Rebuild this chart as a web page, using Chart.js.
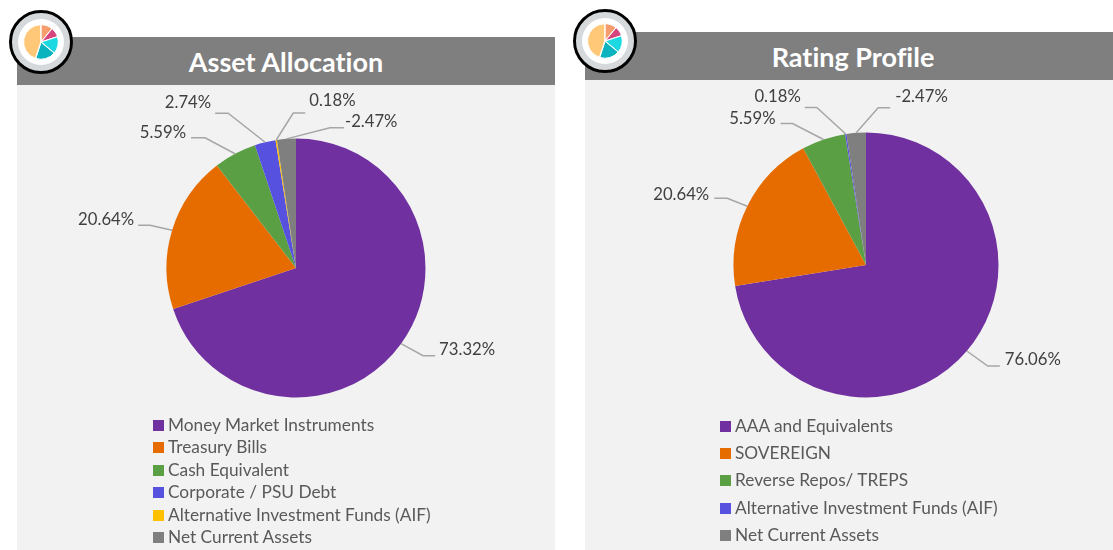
<!DOCTYPE html>
<html>
<head>
<meta charset="utf-8">
<script src="https://cdn.jsdelivr.net/npm/chart.js@4"></script>
<style>
  html, body { margin: 0; background: #fff; overflow: hidden; }
  body { position: relative; width: 1113px; height: 550px; font-family: Lato, sans-serif; font-variant-ligatures: none; }
  .panel { position: absolute; background: #f2f2f2; }
  .band { position: absolute; left: 0; top: 0; width: 100%; height: 48px; background: #7f7f7f; color: #fff;
          font-weight: bold; font-size: 27px; line-height: 50px; text-align: center; }
  .panel canvas { position: absolute; left: 0; top: 0; }
  .legend { position: absolute; font-size: 17.3px; color: #595959; white-space: nowrap; }
  .legend div { position: absolute; left: 0; white-space: nowrap; line-height: 20px; }
  .legend i { position: absolute; left: 0; top: 5px; width: 11px; height: 11px; }
  .legend span { position: absolute; left: 15px; top: 0; }
  .badge { position: absolute; width: 58px; height: 58px; border: 3px solid #000; border-radius: 50%;
           background: #fff; box-shadow: inset 0 0 0 6px #d5d9dc; }
  .badge canvas { position: absolute; left: 9px; top: 9px; }
</style>
</head>
<body>
<script>
'use strict';

// left chart
var assetNames = ['Money Market Instruments', 'Treasury Bills', 'Cash Equivalent',
  'Corporate / PSU Debt', 'Alternative Investment Funds (AIF)', 'Net Current Assets'];
var assetValues = [73.32, 20.64, 5.59, 2.74, 0.18, -2.47];
var assetColors = ['#7030a0', '#e66c00', '#5b9f44', '#5751e0', '#ffc000', '#7f7f7f'];

// right chart
var ratingNames = ['AAA and Equivalents', 'SOVEREIGN', 'Reverse Repos/ TREPS',
  'Alternative Investment Funds (AIF)', 'Net Current Assets'];
var ratingValues = [76.06, 20.64, 5.59, 0.18, -2.47];
var ratingColors = ['#7030a0', '#e66c00', '#5b9f44', '#5751e0', '#7f7f7f'];

// little pie in the round badges
var iconValues = [11, 9, 16, 19, 45];
var iconColors = ['#f79c6c', '#d6457d', '#1cd8e0', '#0bb3be', '#ffc878'];

// leader lines, as [elbow dx, elbow dy, end dx, text gap, text dy] from the slice's edge point
var assetLeaders = [[22, 12, 12, 4, -6], [-22, -5, -12, 4, -6], [-30, -16, -14, 5, -5],
  [-37, -29, -13, 4, -11], [17, -27, 12, 4, -12], [43.5, -11, 14, 1, -6]];
var ratingLeaders = [[21, 15, 12, 5, -6], [-20, -8, -13, 5, -4], [-31, -16, -12, 5, -5],
  [-29, -26.5, -12, 4, -11], [22, -25, 12, 5, -11]];

function pct(v) { return v.toFixed(2) + '%'; }

// draws percent labels with bent leader lines
var leaderPlugin = {
  id: 'leaders',
  afterDatasetsDraw: function(chart, args, opts) {
    var ctx = chart.ctx;
    var arcs = chart.getDatasetMeta(0).data;
    ctx.save();
    ctx.font = '16.7px Lato, sans-serif';
    ctx.textBaseline = 'middle';
    arcs.forEach(function(arc, i) {
      var p = arc.getProps(['x', 'y', 'startAngle', 'endAngle', 'outerRadius']);
      var mid = (p.startAngle + p.endAngle) / 2;
      var ax = p.x + Math.cos(mid) * p.outerRadius;
      var ay = p.y + Math.sin(mid) * p.outerRadius;
      var l = opts.leaders[i];
      var ex = ax + l[0], ey = ay + l[1], fx = ex + l[2];
      ctx.strokeStyle = '#a6a6a6';
      ctx.lineWidth = 1.5;
      ctx.beginPath();
      ctx.moveTo(ax, ay);
      ctx.lineTo(ex, ey);
      ctx.lineTo(fx, ey);
      ctx.stroke();
      ctx.fillStyle = '#404040';
      ctx.textAlign = l[2] < 0 ? 'right' : 'left';
      ctx.fillText(pct(opts.values[i]), fx + (l[2] < 0 ? -l[3] : l[3]), ey + l[4]);
    });
    ctx.restore();
  }
};

function addPanel(o) {
  var panel = document.createElement('div');
  panel.className = 'panel';
  panel.style.cssText = 'left:' + o.left + 'px;top:' + o.top + 'px;width:' + o.width + 'px;height:' + o.height + 'px';
  panel.innerHTML = '<div class="band" style="text-indent:' + o.titleShift + 'px">' + o.title + '</div>';
  document.body.appendChild(panel);

  var canvas = document.createElement('canvas');
  canvas.width = o.width;
  canvas.height = o.height;
  canvas.style.width = o.width + 'px';
  canvas.style.height = o.height + 'px';
  panel.appendChild(canvas);

  new Chart(canvas, {
    type: 'pie',
    data: {
      labels: o.names,
      datasets: [{
        data: o.values.map(Math.abs),  // negative share is drawn by its size
        backgroundColor: o.colors,
        borderWidth: 0
      }]
    },
    options: {
      responsive: false,
      animation: false,
      layout: { padding: o.padding },
      plugins: {
        legend: { display: false },
        tooltip: { enabled: false },
        leaders: { values: o.values, leaders: o.leaders }
      }
    },
    plugins: [leaderPlugin]
  });

  // legend list under the pie
  var legend = document.createElement('div');
  legend.className = 'legend';
  legend.style.cssText = 'left:' + o.legendLeft + 'px;top:0';
  o.names.forEach(function(name, i) {
    var row = document.createElement('div');
    row.style.top = (o.legendTop + i * o.legendStep) + 'px';
    row.innerHTML = '<i style="background:' + o.colors[i] + '"></i><span>' + name + '</span>';
    legend.appendChild(row);
  });
  panel.appendChild(legend);
}

function addBadge(left, top) {
  var badge = document.createElement('div');
  badge.className = 'badge';
  badge.style.left = left + 'px';
  badge.style.top = top + 'px';
  var canvas = document.createElement('canvas');
  canvas.width = 40;
  canvas.height = 40;
  badge.appendChild(canvas);
  document.body.appendChild(badge);
  new Chart(canvas, {
    type: 'pie',
    data: { datasets: [{ data: iconValues, backgroundColor: iconColors, borderColor: '#fff', borderWidth: 1, offset: 1 }] },
    options: {
      responsive: false,
      animation: false,
      layout: { padding: 2 },
      plugins: { legend: { display: false }, tooltip: { enabled: false } }
    }
  });
}

addPanel({
  title: 'Asset Allocation', titleShift: 0, names: assetNames, values: assetValues, colors: assetColors, leaders: assetLeaders,
  left: 17, top: 37, width: 538, height: 513,
  padding: { left: 149.5, right: 129.5, top: 101.5, bottom: 152.5 },
  legendLeft: 136, legendTop: 378, legendStep: 22.4
});
addPanel({
  title: 'Rating Profile', titleShift: 8, names: ratingNames, values: ratingValues, colors: ratingColors, leaders: ratingLeaders,
  left: 585, top: 32, width: 528, height: 518,
  padding: { left: 148.5, right: 114.5, top: 100.5, bottom: 152.5 },
  legendLeft: 135, legendTop: 384, legendStep: 27.2
});
addBadge(9, 10);
addBadge(573, 9);
</script>
</body>
</html>
